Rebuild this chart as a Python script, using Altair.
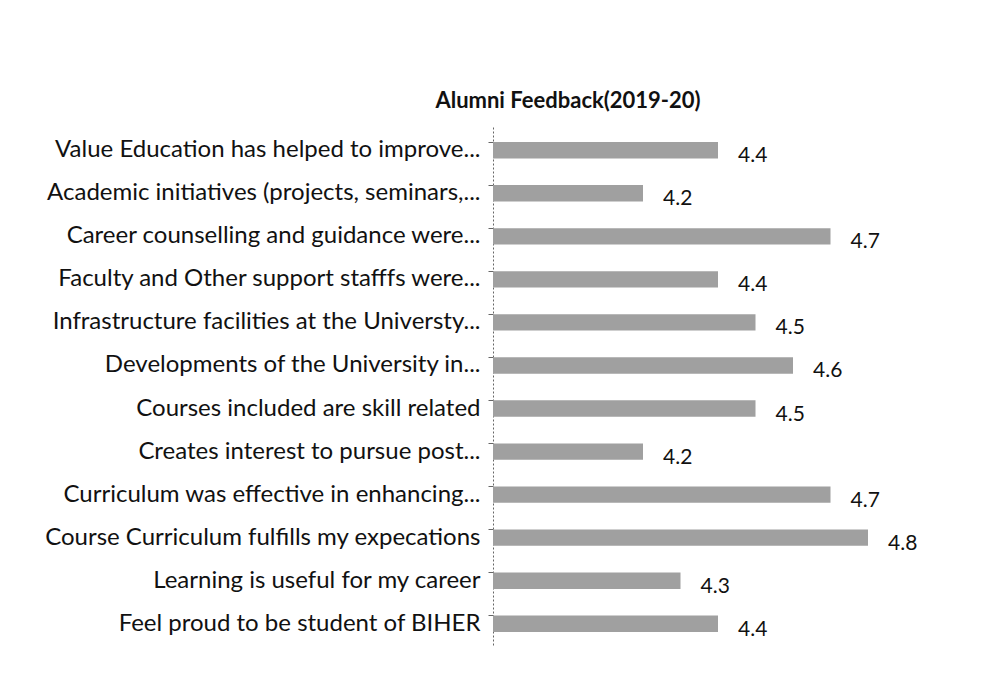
import altair as alt
import pandas as pd

statements = [
    "Value Education has helped to improve...",
    "Academic initiatives (projects, seminars,...",
    "Career counselling and guidance were...",
    "Faculty and Other support stafffs were...",
    "Infrastructure facilities at the Universty...",
    "Developments of the University in...",
    "Courses included are skill related",
    "Creates interest to pursue post...",
    "Curriculum was effective in enhancing...",
    "Course Curriculum fulfills my expecations",
    "Learning is useful for my career",
    "Feel proud to be student of BIHER",
]
scores = [4.4, 4.2, 4.7, 4.4, 4.5, 4.6, 4.5, 4.2, 4.7, 4.8, 4.3, 4.4]
axis_min = 3.8
axis_max = 5.0

df = pd.DataFrame({"statement": statements, "score": scores})

FONT = "Lato"

y_enc = alt.Y(
    "statement:N",
    sort=None,
    title=None,
    scale=alt.Scale(paddingInner=0.62, paddingOuter=0.35),
    axis=alt.Axis(
        labelFont=FONT,
        labelFontSize=24,
        labelColor="#111111",
        labelLimit=700,
        labelPadding=8,
        domainColor="#666666",
        domainDash=[2, 2],
        tickColor="#666666",
        tickSize=5,
        ticks=True,
        bandPosition=0,
    ),
)
x_enc = alt.X(
    "score:Q",
    title=None,
    scale=alt.Scale(domain=[axis_min, axis_max], zero=False, nice=False),
    axis=None,
)

bars = alt.Chart(df).mark_bar(color="#a0a0a0").encode(
    y=y_enc, x=x_enc, x2=alt.X2(datum=axis_min)
)
text = alt.Chart(df).mark_text(
    align="left", baseline="middle", dx=20, dy=6, font=FONT, fontSize=21, color="#111111"
).encode(y=alt.Y("statement:N", sort=None), x="score:Q", text=alt.Text("score:Q", format=".1f"))

chart = (
    alt.layer(bars, text)
    .properties(
        width=450,
        height=520,
        view=alt.ViewConfig(stroke="transparent", strokeWidth=0),
        title=alt.TitleParams(
            "Alumni Feedback(2019-20)",
            font=FONT,
            fontSize=22,
            fontWeight="bold",
            color="#111111",
            anchor="middle",
            offset=14,
            dx=-150,
        ),
        padding={"left": 36, "top": 82, "right": 10, "bottom": 10},
    )
    .configure_view(strokeWidth=0, stroke="transparent")
    .configure(background="#ffffff")
)

chart.save("out.html", embed_options={"renderer": "svg", "actions": False})
